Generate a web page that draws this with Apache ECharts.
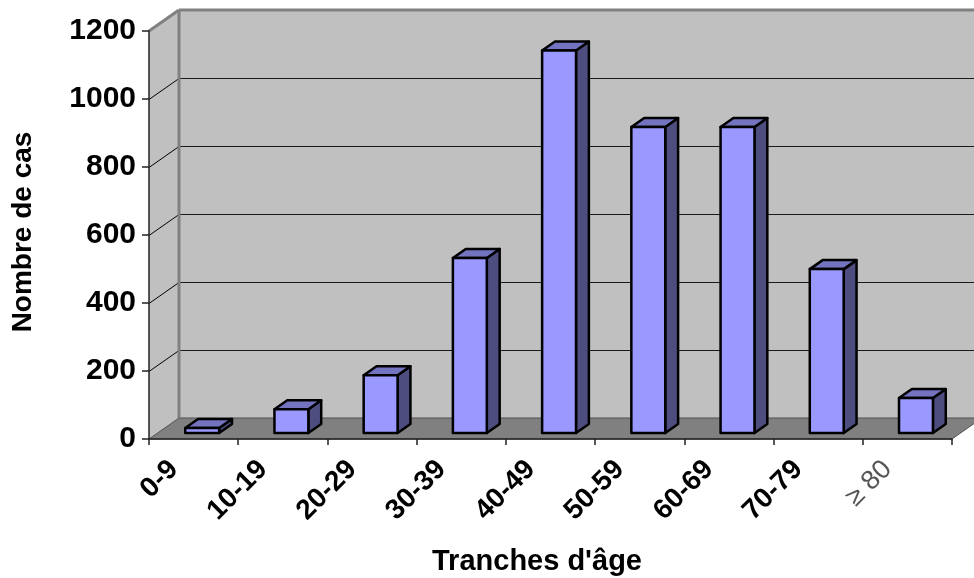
<!DOCTYPE html>
<html>
<head>
<meta charset="utf-8">
<script src="https://cdn.jsdelivr.net/npm/echarts@6/dist/echarts.min.js"></script>
<style>
html,body{margin:0;padding:0;background:#fff;}
#chart{width:974px;height:578px;}
</style>
</head>
<body>
<div id="chart"></div>
<script>
// ---- data ----
const categories = ['0-9', '10-19', '20-29', '30-39', '40-49', '50-59', '60-69', '70-79', '≥ 80'];
const cases = [15, 70, 170, 515, 1125, 900, 900, 482, 103];
const yTickValues = [0, 200, 400, 600, 800, 1000, 1200];
const yAxisTitle = 'Nombre de cas';
const xAxisTitle = "Tranches d'âge";

// ---- style constants ----
const DX = 30, DY = 21;          // depth offset of the 3D box
const F_FRONT = 6 / 21, F_BACK = 15 / 21; // bar depth fractions
const BAR_W = 0.38;
const FONT = 'Liberation Sans, Arial, sans-serif';

const chart = echarts.init(document.getElementById('chart'), null, {renderer: 'canvas'});

function renderWalls(params, api) {
  const cs = params.coordSys;
  const x = cs.x, y = cs.y, w = cs.width, h = cs.height, yb = y + h;
  const children = [];
  children.push({type: 'rect', shape: {x: x + DX, y: y - DY, width: w + 40, height: h},
    style: {fill: '#c0c0c0'}});
  children.push({type: 'polygon', shape: {points: [[x, y], [x + DX, y - DY], [x + DX, yb - DY], [x, yb]]},
    style: {fill: '#c0c0c0'}});
  children.push({type: 'polygon', shape: {points: [[x, yb], [x + DX, yb - DY], [x + w + DX, yb - DY], [x + w, yb]]},
    style: {fill: '#808080', stroke: '#505050', lineWidth: 1}});
  yTickValues.forEach(function (v) {
    const yy = Math.round(api.coord([0, v])[1]) + 0.5;
    if (v > 0 && v < yTickValues[yTickValues.length - 1]) {
      children.push({type: 'line', shape: {x1: x + DX, y1: yy - DY, x2: x + w + DX + 40, y2: yy - DY},
        style: {stroke: '#1a1a1a', lineWidth: 1}});
      children.push({type: 'line', shape: {x1: x, y1: yy, x2: x + DX, y2: yy - DY},
        style: {stroke: '#000', lineWidth: 1}});
    }
  });
  children.push({type: 'line', shape: {x1: x + DX, y1: y - DY, x2: x + DX, y2: yb - DY},
    style: {stroke: '#808080', lineWidth: 3}});
  children.push({type: 'line', shape: {x1: x + DX, y1: y - DY, x2: x + w + DX + 40, y2: y - DY},
    style: {stroke: '#808080', lineWidth: 3}});
  children.push({type: 'line', shape: {x1: x, y1: y, x2: x + DX, y2: y - DY},
    style: {stroke: '#808080', lineWidth: 3}});
  return {type: 'group', children: children};
}

function renderBar(params, api) {
  const ci = api.value(0);
  const p0 = api.coord([ci, 0]);
  const p1 = api.coord([ci, api.value(1)]);
  const bw = api.size([1, 0])[0] * BAR_W;
  const ox = F_FRONT * DX, oy = F_FRONT * DY;
  const dx = (F_BACK - F_FRONT) * DX, dy = (F_BACK - F_FRONT) * DY;
  const xl = p0[0] + ox - bw / 2, xr = p0[0] + ox + bw / 2;
  const yt = p1[1] - oy, yb = p0[1] - oy;
  const stroke = {stroke: '#000', lineWidth: 2.5, lineJoin: 'round'};
  return {type: 'group', children: [
    {type: 'polygon', shape: {points: [[xr, yt], [xr + dx, yt - dy], [xr + dx, yb - dy], [xr, yb]]},
      style: Object.assign({fill: '#4d4d80'}, stroke)},
    {type: 'polygon', shape: {points: [[xl, yt], [xr, yt], [xr + dx, yt - dy], [xl + dx, yt - dy]]},
      style: Object.assign({fill: '#7373bf'}, stroke)},
    {type: 'rect', shape: {x: xl, y: yt, width: bw, height: yb - yt},
      style: Object.assign({fill: '#9999ff'}, stroke)}
  ]};
}

const option = {
  backgroundColor: '#ffffff',
  animation: false,
  grid: {left: 149, right: 22, top: 31, bottom: 139, containLabel: false},
  xAxis: {
    type: 'category',
    data: categories,
    z: 10,
    axisLine: {show: true, lineStyle: {color: '#222', width: 1.5}},
    axisTick: {show: true, length: 6, alignWithLabel: false, lineStyle: {color: '#222', width: 1.5}},
    axisLabel: {
      interval: 0, rotate: 45, margin: 26,
      fontFamily: FONT, fontSize: 28, fontWeight: 'bold', color: '#000',
      padding: [0, 14, 28, 0],
      formatter: function (v) { return v.indexOf('≥') === 0 ? '{g|' + v + '}' : v; },
      rich: {g: {fontFamily: FONT, fontSize: 27, fontWeight: 'normal', color: '#555'}}
    },
    splitLine: {show: false}
  },
  yAxis: {
    type: 'value',
    min: 0, max: 1200, interval: 200,
    z: 10,
    axisLine: {show: true, lineStyle: {color: '#222', width: 1.5}},
    axisTick: {show: true, length: 7, lineStyle: {color: '#222', width: 1.5}},
    axisLabel: {margin: 13, fontFamily: FONT, fontSize: 30, fontWeight: 'bold', color: '#000',
      formatter: function (v) { return String(v); }},
    splitLine: {show: false}
  },
  graphic: [
    {type: 'text', x: 23, y: 232, rotation: Math.PI / 2,
      style: {text: yAxisTitle, fontFamily: FONT, fontSize: 28, fontWeight: 'bold', fill: '#000',
        textAlign: 'center', textVerticalAlign: 'middle'}},
    {type: 'text', x: 537, y: 562,
      style: {text: xAxisTitle, fontFamily: FONT, fontSize: 29, fontWeight: 'bold', fill: '#000',
        textAlign: 'center', textVerticalAlign: 'middle'}}
  ],
  series: [
    {type: 'custom', name: 'walls', z: 1, silent: true, renderItem: renderWalls, data: [[0, 0]]},
    {type: 'custom', name: 'Nombre de cas', z: 3, renderItem: renderBar,
      encode: {x: 0, y: 1},
      data: cases.map(function (v, i) { return [i, v]; })}
  ]
};
chart.setOption(option);
</script>
</body>
</html>
